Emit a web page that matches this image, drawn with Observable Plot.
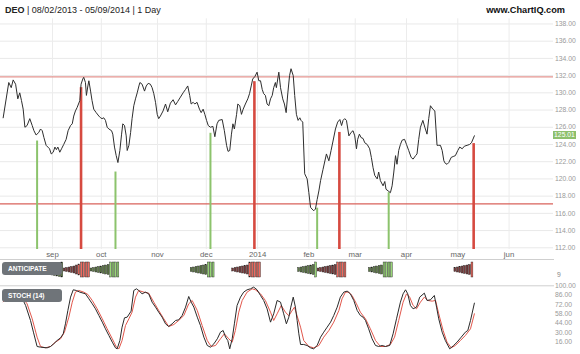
<!DOCTYPE html>
<html><head><meta charset="utf-8">
<script src="https://cdn.jsdelivr.net/npm/d3@7"></script>
<script src="https://cdn.jsdelivr.net/npm/@observablehq/plot@0.6"></script>
<style>
body{margin:0;background:#fff;font-family:"Liberation Sans",Arial,sans-serif;}
#wrap{position:relative;width:580px;height:354px;overflow:hidden;background:#fff;}
.pane{position:absolute;left:0;}
.title{position:absolute;left:5px;top:5px;font-size:9px;color:#222;white-space:pre;}
.brand{position:absolute;right:15px;top:5px;font-size:9.2px;font-weight:bold;color:#111;}
.lbl{position:absolute;left:2px;width:60px;height:13px;background:#6f7479;border-radius:3px;color:#fff;font-size:6.6px;font-weight:bold;line-height:13px;padding-left:6px;box-sizing:border-box;}
.tag{position:absolute;left:553px;width:23px;height:8px;background:#8dbf6c;color:#fff;font-size:6.8px;line-height:8px;text-align:center;}
</style></head><body><div id="wrap"></div>
<script>
// ---- data (x = trading-day index from 08/02/2013) ----
const priceDay = [0.8,3.1,4.1,4.9,5.9,6.8,7.6,8.3,9.0,9.7,10.6,11.7,12.7,13.4,14.3,15.4,16.1,16.8,17.5,18.4,19.1,19.8,20.5,21.3,22.0,22.6,23.2,24.0,24.7,25.6,26.6,27.4,28.4,29.1,29.7,30.4,31.1,32.2,32.7,33.4,33.8,34.5,34.9,35.5,35.9,36.6,37.2,37.9,38.9,40.0,40.7,41.3,42.0,42.7,43.4,44.1,45.2,45.7,46.4,47.1,47.8,48.6,49.3,49.8,50.5,51.2,51.6,52.3,53.0,53.6,54.3,55.0,55.7,56.4,56.8,57.7,58.7,59.4,60.2,61.1,61.8,62.5,63.2,63.9,64.5,65.2,66.3,67.3,68.2,69.3,70.4,71.4,72.3,73.4,74.5,75.5,76.4,77.2,77.8,78.6,79.3,80.2,81.2,81.9,82.7,83.4,84.1,84.8,85.7,86.7,87.5,88.4,89.1,90.5,91.4,92.3,92.9,93.6,94.3,94.9,95.5,96.4,96.9,97.7,98.4,99.1,100.0,101.0,101.7,102.4,103.0,103.9,104.8,105.5,106.2,106.9,107.5,108.2,108.9,109.6,110.3,111.0,111.6,112.3,112.7,113.7,114.4,115.3,116.0,116.7,117.4,118.1,118.7,119.6,120.2,120.9,121.6,122.3,122.8,123.5,124.3,125.3,126.0,126.7,127.3,128.0,128.7,129.4,130.1,130.8,131.8,133.2,134.2,135.1,135.9,136.9,137.8,138.7,139.4,140.0,140.7,141.4,142.4,143.3,144.1,144.8,145.5,146.0,146.7,147.4,148.2,148.9,149.9,150.9,151.6,152.3,153.0,154.0,154.6,155.3,156.4,157.1,157.6,158.5,159.4,160.1,160.8,161.5,162.1,162.8,163.5,164.2,165.2,166.0,166.9,167.9,168.7,169.7,170.3,171.0,171.7,172.7,173.5,174.4,175.1,175.8,176.8,177.6,178.5,179.2,179.9,180.6,181.3,181.9,182.6,183.3,184.3,185.1,186.0,187.0,187.8,188.8,189.7,190.8,191.8,192.6,193.8];
const priceClose = [127.1,131.2,130.6,131.5,131.0,129.3,130.0,129.1,128.1,126.0,126.2,127.0,126.2,125.6,125.1,125.4,125.8,125.6,124.8,123.9,123.7,123.5,122.9,123.1,123.7,123.4,123.7,123.1,123.5,124.0,124.6,125.6,126.2,126.4,127.3,127.9,128.3,129.1,131.0,131.6,131.8,131.2,129.7,130.8,131.4,130.2,129.1,128.1,127.7,127.3,127.1,127.0,127.1,126.8,126.0,125.8,125.6,125.2,123.7,122.7,121.9,123.3,125.2,126.4,126.2,125.0,123.3,123.9,125.4,127.0,128.5,129.3,130.0,130.8,131.2,131.0,130.2,130.8,131.1,131.0,130.6,129.9,128.9,127.5,127.0,127.3,127.9,128.7,127.8,128.8,129.2,128.6,129.0,129.5,130.0,130.4,130.8,129.7,128.7,128.9,128.7,128.9,128.1,127.7,128.1,127.5,126.8,126.2,126.0,126.1,124.9,126.4,126.8,126.9,125.6,123.9,123.2,123.3,125.2,126.4,125.8,127.5,128.7,128.5,127.5,128.1,128.7,129.3,129.9,130.8,131.6,131.9,132.4,131.4,131.4,130.4,129.9,129.7,128.7,128.5,129.3,129.7,130.6,131.2,130.6,132.4,130.6,129.3,128.7,127.7,130.0,132.0,132.8,132.0,129.7,127.5,126.8,127.1,126.8,126.6,120.6,120.0,118.4,116.7,116.5,116.3,116.5,117.6,118.6,119.8,121.1,122.9,122.1,123.3,124.4,125.8,126.6,126.9,126.2,126.8,127.0,126.8,125.0,125.4,125.6,125.0,123.5,124.6,125.2,124.8,124.7,124.2,124.0,123.5,122.5,121.3,120.4,120.0,120.8,119.8,119.2,119.7,118.8,118.6,118.4,119.2,120.8,122.7,121.7,123.3,124.0,124.5,124.6,124.0,123.3,122.5,122.3,122.7,122.9,124.6,126.0,126.8,126.0,125.2,127.0,128.5,128.1,127.9,123.9,123.9,123.9,123.3,122.1,121.8,121.7,121.9,122.5,122.6,122.7,123.3,123.7,123.5,123.8,123.9,124.0,124.2,125.01];
const lastClose = 125.01;

const levelValues = [131.85, 117.1];
const levelColors = ["#e49590", "#d9625b"];

const signalDay  = [14.7, 32.7, 46.8, 85.7, 103.7, 129.4, 138.5, 158.7, 193.5];
const signalTop  = [124.4, 130.6, 120.8, 125.3, 131.3, 116.6, 125.4, 118.4, 124.1];
const signalType = ["buy","sell","buy","buy","sell","buy","sell","buy","sell"];

const monthDay   = [21, 41, 64, 84, 105, 126, 145, 166, 187, 208];
const monthLabel = ["sep","oct","nov","dec","2014","feb","mar","apr","may","jun"];
const priceTicks = [112,114,116,118,120,122,124,126,128,130,132,134,136,138];

// ANTICIPATE histogram bars (half-height, kind: g/r dark, G/R highlighted)
const antDay  = [13,14,15,16,17,18,19,20,21,22,23,24,25, 26,27,28,29,30,31,32,33,34,35,36, 37,38,39,40,41,42,43,44,45,46,47,48, 78,79,80,81,82,83,84,85,86,87, 95,96,97,98,99,100,101,102,103,104,105,106, 122,123,124,125,126,127,128,129, 130,131,132,133,134,135,136,137,138,139,140,141, 151,152,153,154,155,156,157,158,159,160, 186,187,188,189,190,191,192,193];
const antSize = [1.5,2,2.5,3,3.5,4,4.5,5,5.5,6,6.5,7,7.5, 1.5,2,2.5,3,3.5,4.5,5.5,7.5,7.5,7.5,7.5, 1.5,2,2.5,3,3.5,4,4.5,5,7.5,7.5,7.5,7.5, 2,2.5,3,3.5,4,4.5,5,7.5,7.5,7.5, 1.5,2,2.5,3,3.5,4,4.5,7.5,7.5,7.5,7.5,7.5, 2,2.5,3,3.5,4,4.5,5,7.5, 1.5,2,2.5,3,3.5,4,4.5,5,7.5,7.5,7.5,7.5, 2,2.5,3,3.5,4,4.5,7.5,7.5,7.5,7.5, 2,2.5,3,3.5,4,4.5,5,7.5];
const antKind = ["g","g","g","g","g","g","g","g","g","g","g","g","g", "r","r","r","r","r","r","R","R","R","R","R", "g","g","g","g","g","g","g","g","G","G","G","G", "g","g","g","g","g","g","g","G","G","G", "r","r","r","r","r","r","r","R","R","R","R","R", "g","g","g","g","g","g","g","G", "r","r","r","r","r","r","r","r","R","R","R","R", "g","g","g","g","g","g","G","G","G","G", "r","r","r","r","r","r","r","R"];
const antColors = {g: "#5d7a45", G: "#98d677", r: "#7a3a3a", R: "#ee6a5f"};

// STOCH (14): %K black, %D red
const kDay = [0.8,2.5,4.5,6.5,8.5,10.0,12.0,13.2,14.7,16.1,18.8,20.2,21.5,22.9,24.3,25.4,26.3,27.3,28.4,29.5,30.8,32.2,34.5,35.9,37.3,38.6,40.0,41.4,42.7,44.1,45.5,46.8,47.5,48.6,49.5,50.5,51.6,53.2,54.3,55.4,56.3,57.7,59.1,60.4,61.8,63.2,64.5,65.9,67.3,68.6,70.0,71.4,72.7,74.1,75.5,76.8,77.8,78.9,80.3,81.6,83.0,84.4,85.7,87.1,88.5,89.8,90.9,91.9,92.8,93.6,94.6,95.5,96.6,98.0,99.3,100.7,102.1,103.4,104.8,106.2,107.5,108.9,110.3,111.6,113.0,114.4,115.7,116.8,117.8,118.6,119.6,120.5,121.2,121.9,122.6,123.9,125.3,126.7,128.0,129.4,130.8,132.1,133.5,134.9,136.2,137.6,138.9,140.3,141.7,143.0,144.4,145.8,147.1,148.2,149.2,150.5,151.9,153.3,154.6,156.0,157.4,159.1,160.5,161.9,163.5,164.6,165.6,166.5,167.6,168.7,170.1,171.4,173.3,174.4,175.8,177.4,178.3,179.2,180.6,181.9,183.7,185.3,186.7,188.4,190.1,191.1,192.2,193.8];
const kVal = [80,88,92,90,82,70.5,48,30.5,9,8,7,9,13,18,22,28,43,63,83,94,93,90.5,88,80.5,73,65.5,55.5,45.5,35.5,25.5,15.5,7,5.5,18,38,52,53,62,93,95.5,93,88,90.5,88,75.5,68,60.5,53,43,39,43,48,49,55.5,68,84,75.5,68,53,40.5,23,10.5,8,13,20.5,30.5,33,23,18,5.5,20.5,43,70.5,83,90.5,94,95.5,98,94,85.5,78,65.5,45.5,58,78,75.5,58,43,53,68,83,68,48,28,12,12,10.5,7,5.5,10.5,23,30.5,38,45.5,55.5,68,83,90.5,92,88,78,63,55.5,53,48,35.5,20.5,10.5,9,10.5,9,10.5,28,50.5,75.5,88,94,88,70.5,65.5,68,83,89,78,79,85.5,68,50.5,30.5,18,5.5,10.5,15.5,23,30.5,33,48,74];
const dDay = [0.8,3.0,5.5,8.0,10.6,12.7,14.7,16.1,18.1,20.2,22.2,24.3,25.9,27.7,29.1,30.4,31.8,33.8,35.5,37.3,39.3,41.4,43.4,45.5,47.2,48.2,49.5,50.9,52.3,53.6,55.0,56.3,58.4,60.4,62.5,64.5,66.6,68.6,70.7,72.7,74.8,76.8,78.2,80.3,82.3,84.4,86.0,87.8,89.8,91.4,93.2,94.6,95.9,97.3,98.7,100.7,102.8,104.1,106.2,108.2,110.3,111.6,113.0,114.7,116.4,117.8,119.0,120.1,122.6,123.9,126.0,128.0,130.1,132.1,134.2,136.2,138.3,139.6,141.0,142.3,143.7,145.5,147.1,149.2,151.2,153.3,155.3,157.4,159.4,161.1,162.8,164.6,166.0,167.3,168.7,170.1,171.7,173.3,174.7,176.5,177.9,179.2,181.0,182.6,184.3,186.0,188.1,190.1,192.2,193.8];
const dVal = [76,84,90,86,73,50.5,23,9,7,9,15.5,20.5,30.5,53,75.5,90.5,93,90.5,87,78,65.5,50.5,35.5,20.5,8,5.5,18,40.5,50.5,60.5,83,93,90.5,89,75.5,63,50.5,39,42,48,55.5,73,78,63,40.5,18,9,10.5,20.5,28,20.5,15.5,33,60.5,78,90.5,95.5,94,88,78,60.5,48,58,70.5,60.5,55,62,68,38,18,9,7,10.5,23,33,45.5,63,80.5,90.5,90.5,85.5,73,60.5,50.5,35.5,18,9,9,12,23,48,75.5,88,83,70.5,65.5,75.5,83,78,77,78,58,33,15.5,7,10.5,18,25.5,35.5,58];
const stochTicks = [100,86,72,58,44,30,16];

// ---- build tables ----
const price = priceDay.map((d, i) => ({day: d, close: priceClose[i]}));
const signals = signalDay.map((d, i) => ({day: d, top: signalTop[i], type: signalType[i]}));
const levels = levelValues.map((v, i) => ({v, c: levelColors[i]}));
const bars = antDay.map((d, i) => ({day: d, h: antSize[i], k: antKind[i]}));
const kLine = kDay.map((d, i) => ({day: d, v: kVal[i]}));
const dLine = dDay.map((d, i) => ({day: d, v: dVal[i]}));
const monthMap = new Map(monthDay.map((d, i) => [d, monthLabel[i]]));

const X_DOMAIN = [-0.29, 226.2];
const Y_DOMAIN = [111.8, 138.6];
const W = 580, MR = 27;
const axisFont = "Liberation Sans, Arial, sans-serif";

const wrap = document.getElementById("wrap");

const main = Plot.plot({
  width: W, height: 260, marginLeft: 0, marginRight: MR, marginTop: 18.3, marginBottom: 11,
  x: {domain: X_DOMAIN, label: null},
  y: {domain: Y_DOMAIN, label: null},
  style: {overflow: "visible", background: "transparent", fontFamily: axisFont},
  marks: [
    Plot.gridY(priceTicks, {stroke: "#e9e9e9", strokeOpacity: 1}),
    Plot.gridX(monthDay, {stroke: "#ececec", strokeOpacity: 1}),
    Plot.axisY(priceTicks, {anchor: "right", label: null, tickSize: 0, tickPadding: 1.5, tickFormat: d3.format(".2f"), fontSize: 6.8, fill: "#9a9a9a"}),
    Plot.axisX(monthDay, {anchor: "bottom", label: null, tickSize: 0, tickPadding: 1.8, tickFormat: d => monthMap.get(d), fontSize: 7.8, fill: "#666"}),
    Plot.ruleY(levels, {y: "v", stroke: "c", strokeWidth: 1.3}),
    Plot.ruleX(signals, {x: "day", y1: Y_DOMAIN[0], y2: "top", stroke: d => d.type === "buy" ? "#8cc36c" : "#d64a40", strokeWidth: d => d.type === "buy" ? 2 : 2.6}),
    Plot.line(price, {x: "day", y: "close", stroke: "#2e2e2e", strokeWidth: 1})
  ]
});
main.classList.add("pane"); main.style.top = "0px";
wrap.appendChild(main);

const ant = Plot.plot({
  width: W, height: 26, marginLeft: 0, marginRight: MR, marginTop: 0, marginBottom: 0,
  x: {domain: X_DOMAIN, axis: null},
  y: {domain: [-15.5, 10.5], axis: null},
  style: {overflow: "visible", background: "transparent", fontFamily: axisFont},
  marks: [
    Plot.frame({anchor: "top", stroke: "#cfcfcf"}),
    Plot.rect(bars, {x1: d => d.day - 0.38, x2: d => d.day + 0.38, y1: d => -d.h, y2: d => d.h, fill: d => antColors[d.k], stroke: "#1e1e1e", strokeWidth: 0.4}),
    Plot.text(["9"], {frameAnchor: "right", dx: 3.5, dy: 2.5, fontSize: 6.8, fill: "#888", textAnchor: "start"})
  ]
});
ant.classList.add("pane"); ant.style.top = "259px";
wrap.appendChild(ant);

const stoch = Plot.plot({
  width: W, height: 69, marginLeft: 0, marginRight: MR, marginTop: 0.3, marginBottom: 2,
  x: {domain: X_DOMAIN, axis: null},
  y: {domain: [0, 100]},
  style: {overflow: "visible", background: "transparent", fontFamily: axisFont},
  marks: [
    Plot.frame({anchor: "top", stroke: "#cfcfcf"}),
    Plot.axisY(stochTicks, {anchor: "right", label: null, tickSize: 0, tickPadding: 1.5, tickFormat: d3.format(".2f"), fontSize: 6.8, fill: "#9a9a9a"}),
    Plot.line(dLine, {x: "day", y: "v", stroke: "#e2574c", strokeWidth: 1}),
    Plot.line(kLine, {x: "day", y: "v", stroke: "#2a2a2a", strokeWidth: 1})
  ]
});
stoch.classList.add("pane"); stoch.style.top = "285px";
wrap.appendChild(stoch);

// header
const t = document.createElement("div"); t.className = "title";
t.innerHTML = "<b>DEO</b> | 08/02/2013 - 05/09/2014 | 1 Day";
wrap.appendChild(t);
const b = document.createElement("div"); b.className = "brand"; b.textContent = "www.ChartIQ.com";
wrap.appendChild(b);

// panel labels
[["ANTICIPATE", 262], ["STOCH (14)", 289]].forEach(([txt, top]) => {
  const l = document.createElement("div"); l.className = "lbl"; l.textContent = txt; l.style.top = top + "px";
  wrap.appendChild(l);
});

// last price tag
const tag = document.createElement("div"); tag.className = "tag"; tag.textContent = lastClose.toFixed(2);
tag.style.top = (main.scale("y").apply(lastClose) - 4) + "px";
wrap.appendChild(tag);
</script>
</body></html>
